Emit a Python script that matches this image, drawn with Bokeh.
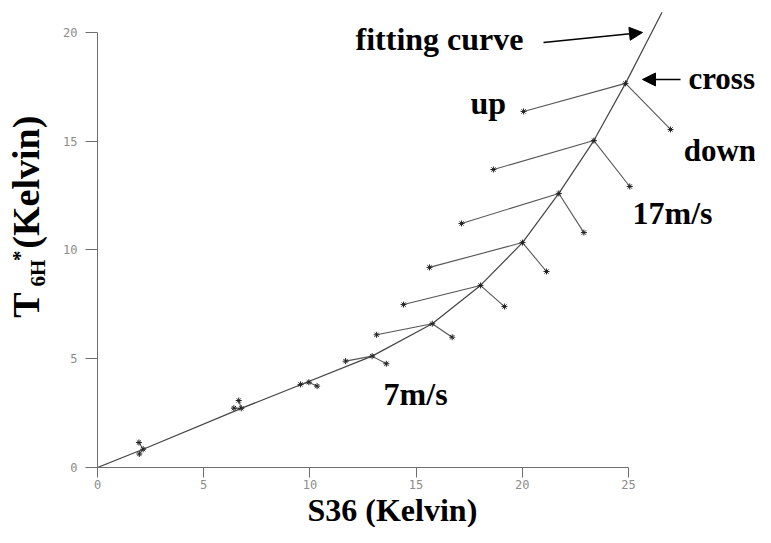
from bokeh.plotting import figure
from bokeh.models import Range1d, FixedTicker, Label, Arrow, NormalHead
from bokeh.layouts import row, column
from bokeh.core.properties import value
from bokeh.embed import file_html
from bokeh.resources import INLINE
import math

# ---- data ----
x_ticks = [0, 5, 10, 15, 20, 25]
y_ticks = [0, 5, 10, 15, 20]

cross_x = [2.15, 6.77, 9.95, 12.93, 15.76, 18.03, 20.01, 21.72, 23.37, 24.86]
cross_y = [0.84, 2.72, 3.92, 5.12, 6.61, 8.37, 10.34, 12.60, 15.03, 17.66]
up_x = [1.95, 6.42, 9.56, 11.68, 13.14, 14.41, 15.63, 17.14, 18.64, 20.06]
up_y = [1.15, 2.73, 3.82, 4.89, 6.10, 7.49, 9.20, 11.22, 13.70, 16.37]
down_x = [1.97, 6.65, 10.34, 13.60, 16.70, 19.16, 21.14, 22.90, 25.06, 26.98]
down_y = [0.62, 3.08, 3.74, 4.77, 5.99, 7.40, 9.01, 10.80, 12.92, 15.54]

fit_x = [0.0, 2.15, 6.77, 9.09, 12.93, 15.76, 18.03, 20.01, 21.72, 23.37, 24.86, 26.58]
fit_y = [0.0, 0.84, 2.72, 3.62, 5.12, 6.61, 8.37, 10.34, 12.60, 15.03, 17.66, 20.93]

SERIF = "Liberation Serif"
MONO = "DejaVu Sans Mono"

# ---------------- main plot ----------------
p = figure(width=705, height=493,
           x_range=Range1d(0, 30.98), y_range=Range1d(0, 21.47),
           output_backend="svg", toolbar_location=None,
           min_border_left=47, min_border_bottom=26,
           min_border_right=0, min_border_top=0)
p.grid.visible = False
p.outline_line_color = None

xa = p.xaxis[0]
ya = p.yaxis[0]
xa.bounds = (0, 25)
ya.bounds = (0, 20)
xa.ticker = FixedTicker(ticks=x_ticks)
ya.ticker = FixedTicker(ticks=y_ticks)
for ax in (xa, ya):
    ax.axis_line_color = "#6e6e6e"
    ax.major_tick_line_color = "#6e6e6e"
    ax.major_tick_in = 0
    ax.minor_tick_line_color = None
    ax.major_label_text_font = MONO
    ax.major_label_text_font_size = "12px"
    ax.major_label_text_color = "#8c8c8c"
xa.major_tick_out = 10
xa.major_label_standoff = 2
ya.major_tick_out = 12
ya.major_label_standoff = 8

p.line(fit_x, fit_y, line_color="#444444", line_width=1.2)
p.segment(up_x, up_y, cross_x, cross_y, line_color="#555555", line_width=1.1)
p.segment(cross_x, cross_y, down_x, down_y, line_color="#555555", line_width=1.1)
for xs, ys in ((up_x, up_y), (cross_x, cross_y), (down_x, down_y)):
    p.scatter(xs, ys, marker="asterisk", size=6, line_color="#222222", line_width=1)

def lab(text, x, y, size="32px"):
    p.add_layout(Label(x=x, y=y, text=text, text_font=SERIF, text_font_style="bold",
                       text_font_size=size, text_color="black",
                       text_baseline="alphabetic", text_align="left"))

lab("fitting curve", 12.15, 19.72)
lab("cross", 27.82, 17.89, size="31px")
lab("up", 17.56, 16.78)
lab("down", 27.60, 14.57, size="31px")
lab("17m/s", 25.19, 11.72)
lab("7m/s", 13.47, 3.40)

p.add_layout(Arrow(end=NormalHead(size=13, fill_color="black", line_color="black"),
                   x_start=21.0, y_start=19.54, x_end=25.66, y_end=20.0,
                   line_color="black", line_width=1.6))
p.add_layout(Arrow(end=NormalHead(size=13, fill_color="black", line_color="black"),
                   x_start=27.45, y_start=17.84, x_end=25.66, y_end=17.84,
                   line_color="black", line_width=1.6))

# ---------------- y axis title strip ----------------
yfig = figure(width=50, height=493, x_range=Range1d(0, 50), y_range=Range1d(0, 493),
              output_backend="svg", toolbar_location=None,
              x_axis_type=None, y_axis_type=None,
              min_border_left=0, min_border_right=0, min_border_top=0, min_border_bottom=0)
yfig.outline_line_color = None
A = math.pi / 2
def ytxt(text, x, y, size):
    yfig.text(x=[x], y=[y], text=[text], angle=A, text_font=value(SERIF),
              text_font_style="bold", text_font_size=value(size), text_color="black",
              text_baseline="alphabetic", text_align="left")
ytxt("T", 25, 158, "38px")
ytxt("6H", 37, 191, "21px")
ytxt("*", 19, 218, "21px")
ytxt("(Kelvin)", 25, 231, "38px")

# ---------------- x axis title strip ----------------
xfig = figure(width=755, height=34, x_range=Range1d(0, 755), y_range=Range1d(0, 34),
              output_backend="svg", toolbar_location=None,
              x_axis_type=None, y_axis_type=None,
              min_border_left=0, min_border_right=0, min_border_top=0, min_border_bottom=0)
xfig.outline_line_color = None
xfig.text(x=[307], y=[18], text=["S36 (Kelvin)"], text_font=value(SERIF),
          text_font_style="bold", text_font_size=value("32px"), text_color="black",
          text_baseline="alphabetic", text_align="left")

layout = column(row(yfig, p), xfig)
open("out.html", "w").write(file_html(layout, INLINE))
